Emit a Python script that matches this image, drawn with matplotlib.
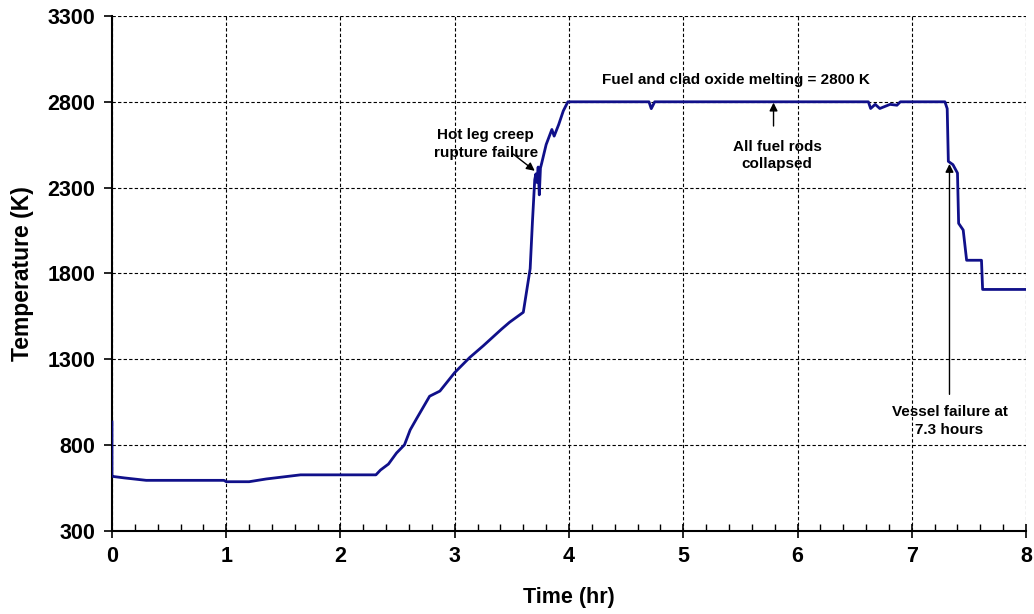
import matplotlib
matplotlib.use("Agg")
matplotlib.rcParams.update({
    "font.family": "Liberation Sans", "font.weight": "bold",
    "axes.spines.top": False, "axes.spines.right": False,
})
import matplotlib.pyplot as plt
from matplotlib.ticker import MultipleLocator

# peak core temperature history (hr, K)
TIME = [0.0, 0.0, 0.005, 0.11, 0.3, 0.6, 0.98, 1.0, 1.2, 1.35, 1.5, 1.65, 2.0, 2.31,
        2.35, 2.42, 2.49, 2.56, 2.61, 2.67, 2.78, 2.87, 3.0, 3.13, 3.25, 3.41, 3.48,
        3.60, 3.66, 3.68, 3.70, 3.71, 3.72, 3.73, 3.74, 3.75, 3.76, 3.80, 3.85, 3.87,
        3.91, 3.95, 3.99, 4.70, 4.72, 4.75, 6.62, 6.64, 6.68, 6.72, 6.81, 6.87, 6.90,
        7.29, 7.31, 7.32, 7.36, 7.40, 7.41, 7.45, 7.48, 7.61, 7.62, 8.0]
TEMP = [935, 620, 618, 609, 595, 595, 595, 587, 587, 603, 615, 627, 627, 627,
        655, 690, 754, 802, 889, 959, 1085, 1115, 1223, 1310, 1379, 1476, 1516,
        1574, 1828, 2102, 2346, 2380, 2330, 2420, 2258, 2414, 2440, 2551, 2639, 2600,
        2668, 2747, 2800, 2800, 2760, 2800, 2800, 2761, 2785, 2761, 2785, 2780, 2800,
        2800, 2760, 2453, 2434, 2385, 2092, 2053, 1877, 1877, 1707, 1707]
Y_TICKS = [300, 800, 1300, 1800, 2300, 2800, 3300]

fig = plt.figure(figsize=(10.34, 6.14), dpi=100)
ax = fig.add_axes([0.1083, 0.1352, 0.8840, 0.8388])

ax.plot(TIME, TEMP, color="#10108a", lw=2.0, zorder=3)

ax.set_xlim(0, 8)
ax.set_ylim(300, 3300)
ax.xaxis.set_major_locator(MultipleLocator(1))
ax.xaxis.set_minor_locator(MultipleLocator(0.2))
ax.set_yticks(Y_TICKS)
ax.tick_params(axis="x", which="major", direction="inout", length=10, width=1.2,
               labelsize=15.5, pad=6)
ax.tick_params(axis="x", which="minor", direction="in", length=5, width=1.0)
ax.tick_params(axis="y", which="major", direction="out", length=6, width=1.2,
               labelsize=15.5, pad=6)
for sp in ("left", "bottom"):
    ax.spines[sp].set_linewidth(1.5)
ax.grid(True, which="major", color="black", ls=(0, (3, 2)), lw=0.8)

ax.set_xlabel("Time (hr)", fontsize=15.5, fontweight="bold", labelpad=14)
ax.set_ylabel("Temperature (K)", fontsize=16.5, fontweight="bold", labelpad=10)

ann = dict(fontsize=11, fontweight="bold", ha="center", va="center",
           linespacing=1.3)
arrow = dict(arrowstyle="-|>", color="black", lw=1.0, mutation_scale=12,
             shrinkA=0, shrinkB=0)

ax.text(5.46, 2925, "Fuel and clad oxide melting = 2800 K", **ann)

ax.annotate("", xy=(5.79, 2795), xytext=(5.79, 2659), arrowprops=arrow)
ax.text(5.82, 2487, "All fuel rods\ncollapsed", **ann)

ax.annotate("", xy=(3.70, 2398), xytext=(3.51, 2496), arrowprops=arrow)
ax.text(3.27, 2555, "Hot leg creep\nrupture failure", **ann)

ax.annotate("", xy=(7.33, 2438), xytext=(7.33, 1096), arrowprops=arrow)
ax.text(7.33, 940, "Vessel failure at\n7.3 hours", **ann)

fig.savefig("out.png", dpi=100)
